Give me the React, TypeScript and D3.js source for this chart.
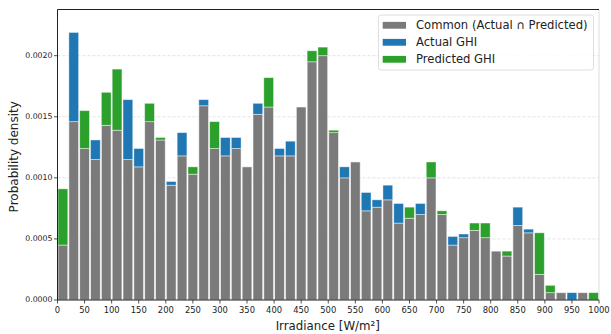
import React from "react";
import * as d3 from "d3";

// bins of 20 W/m² from 0 to 1000
const binStarts = d3.range(0, 1000, 20);

// density, one value per bin
const actualGHI = [
  0.00045, 0.00219, 0.00124, 0.00131, 0.00143, 0.00139, 0.00164, 0.00124, 0.00146, 0.00131,
  0.00097, 0.00137, 0.00103, 0.00164, 0.00124, 0.00133, 0.00133, 0.00109, 0.00161, 0.00158,
  0.00124, 0.0013, 0.00158, 0.00195, 0.002, 0.00137, 0.00109, 0.00113, 0.00088, 0.00082,
  0.00094, 0.00079, 0.00067, 0.00079, 0.001, 0.0007, 0.00052, 0.00054, 0.00057, 0.00051,
  0.0004, 0.00036, 0.00076, 0.00058, 0.00021, 0.00006, 0.00006, 0.00006, 0.00006, 0,
];
const predictedGHI = [
  0.00091, 0.00146, 0.00155, 0.00115, 0.0017, 0.00189, 0.00115, 0.00109, 0.00161, 0.00133,
  0.00094, 0.00118, 0.00109, 0.00159, 0.00146, 0.00118, 0.00124, 0.00109, 0.00152, 0.00182,
  0.00118, 0.00118, 0.00158, 0.00204, 0.00207, 0.00139, 0.001, 0.00113, 0.00073, 0.00076,
  0.00082, 0.00063, 0.00076, 0.0007, 0.00113, 0.00073, 0.00045, 0.00051, 0.00063, 0.00063,
  0.0004, 0.0004, 0.00061, 0.00055, 0.00055, 0.00012, 0.00006, 0, 0.00006, 0.00006,
];

const xTicks = d3.range(0, 1001, 50);
const yTicks = [0, 0.0005, 0.001, 0.0015, 0.002];

const legendItems = [
  { label: "Common (Actual \u2229 Predicted)", color: "#7a7a7a" },
  { label: "Actual GHI", color: "#1f77b4" },
  { label: "Predicted GHI", color: "#2ca02c" },
];

const width = 611;
const height = 334;
const margin = { top: 9.5, right: 12, bottom: 34, left: 57.5 };

export default function App() {
  const x = d3.scaleLinear().domain([0, 1000]).range([margin.left, width - margin.right]);
  const y = d3.scaleLinear().domain([0, 0.002378]).range([height - margin.bottom, margin.top]);
  const binW = x(20) - x(0);
  const barW = binW * 0.9;
  const font = "DejaVu Sans, sans-serif";

  const bars = binStarts.map((b, i) => {
    const a = actualGHI[i];
    const p = predictedGHI[i];
    const common = Math.min(a, p);
    const top = Math.max(a, p);
    const extraColor = a > p ? "#1f77b4" : "#2ca02c";
    const bx = x(b) + (binW - barW) / 2;
    return (
      <g key={b}>
        {common > 0 && (
          <rect x={bx} y={y(common)} width={barW} height={y(0) - y(common)}
            fill="#7a7a7a" stroke="#fff" strokeOpacity={0.7} strokeWidth={0.8} />
        )}
        {top > common && (
          <rect x={bx} y={y(top)} width={barW} height={y(common) - y(top)}
            fill={extraColor} stroke="#fff" strokeOpacity={0.5} strokeWidth={0.8} />
        )}
      </g>
    );
  });

  const x0 = margin.left;
  const x1 = width - margin.right;
  const y0 = height - margin.bottom;
  const y1 = margin.top;

  return (
    <svg width={width} height={height} style={{ position: "absolute", left: 0, top: 0 }}>
      <rect width={width} height={height} fill="#fff" />
      {yTicks.slice(1).map((t) => (
        <line key={t} x1={x0} x2={x1} y1={y(t)} y2={y(t)}
          stroke="#c8c8c8" strokeDasharray="3,2" strokeWidth={0.8} opacity={0.6} />
      ))}
      {bars}
      {/* spines */}
      <line x1={x1} x2={x1} y1={y1} y2={y0} stroke="#dcdcdc" strokeWidth={1} />
      <line x1={x0} x2={x1} y1={y1} y2={y1} stroke="#222" strokeWidth={1} />
      <line x1={x0} x2={x0} y1={y1} y2={y0} stroke="#222" strokeWidth={1} />
      <line x1={x0} x2={x1} y1={y0} y2={y0} stroke="#222" strokeWidth={1} />
      {yTicks.map((t) => (
        <g key={t}>
          <line x1={x0 - 3.5} x2={x0} y1={y(t)} y2={y(t)} stroke="#222" strokeWidth={0.8} />
          <text x={x0 - 5} y={y(t)} dy="0.32em" textAnchor="end" fontFamily={font} fontSize={7.8} fill="#222">
            {d3.format(".4f")(t)}
          </text>
        </g>
      ))}
      {xTicks.map((t) => (
        <g key={t}>
          <line x1={x(t)} x2={x(t)} y1={y0} y2={y0 + 3.5} stroke="#222" strokeWidth={0.8} />
          <text x={x(t)} y={y0 + 13} textAnchor="middle" fontFamily={font} fontSize={8.4} fill="#222">
            {t}
          </text>
        </g>
      ))}
      <text x={(x0 + x1) / 2 - 0.5} y={329.5} textAnchor="middle" fontFamily={font} fontSize={11.8} fill="#222">
        Irradiance [W/m²]
      </text>
      <text transform={`translate(18,${(y0 + y1) / 2 + 2}) rotate(-90)`} textAnchor="middle"
        fontFamily={font} fontSize={12} fill="#222">
        Probability density
      </text>
      {/* legend */}
      <rect x={378.5} y={15} width={215} height={55} rx={2.5} fill="#fff" fillOpacity={0.8}
        stroke="#d6d6d6" strokeWidth={0.8} />
      {legendItems.map((d, i) => (
        <g key={d.label} transform={`translate(0,${25.3 + i * 17})`}>
          <rect x={382.7} y={-3.4} width={23.3} height={6.8} fill={d.color} />
          <text x={416} y={0} dy="0.35em" fontFamily={font} fontSize={11.6} fill="#222">
            {d.label}
          </text>
        </g>
      ))}
    </svg>
  );
}
